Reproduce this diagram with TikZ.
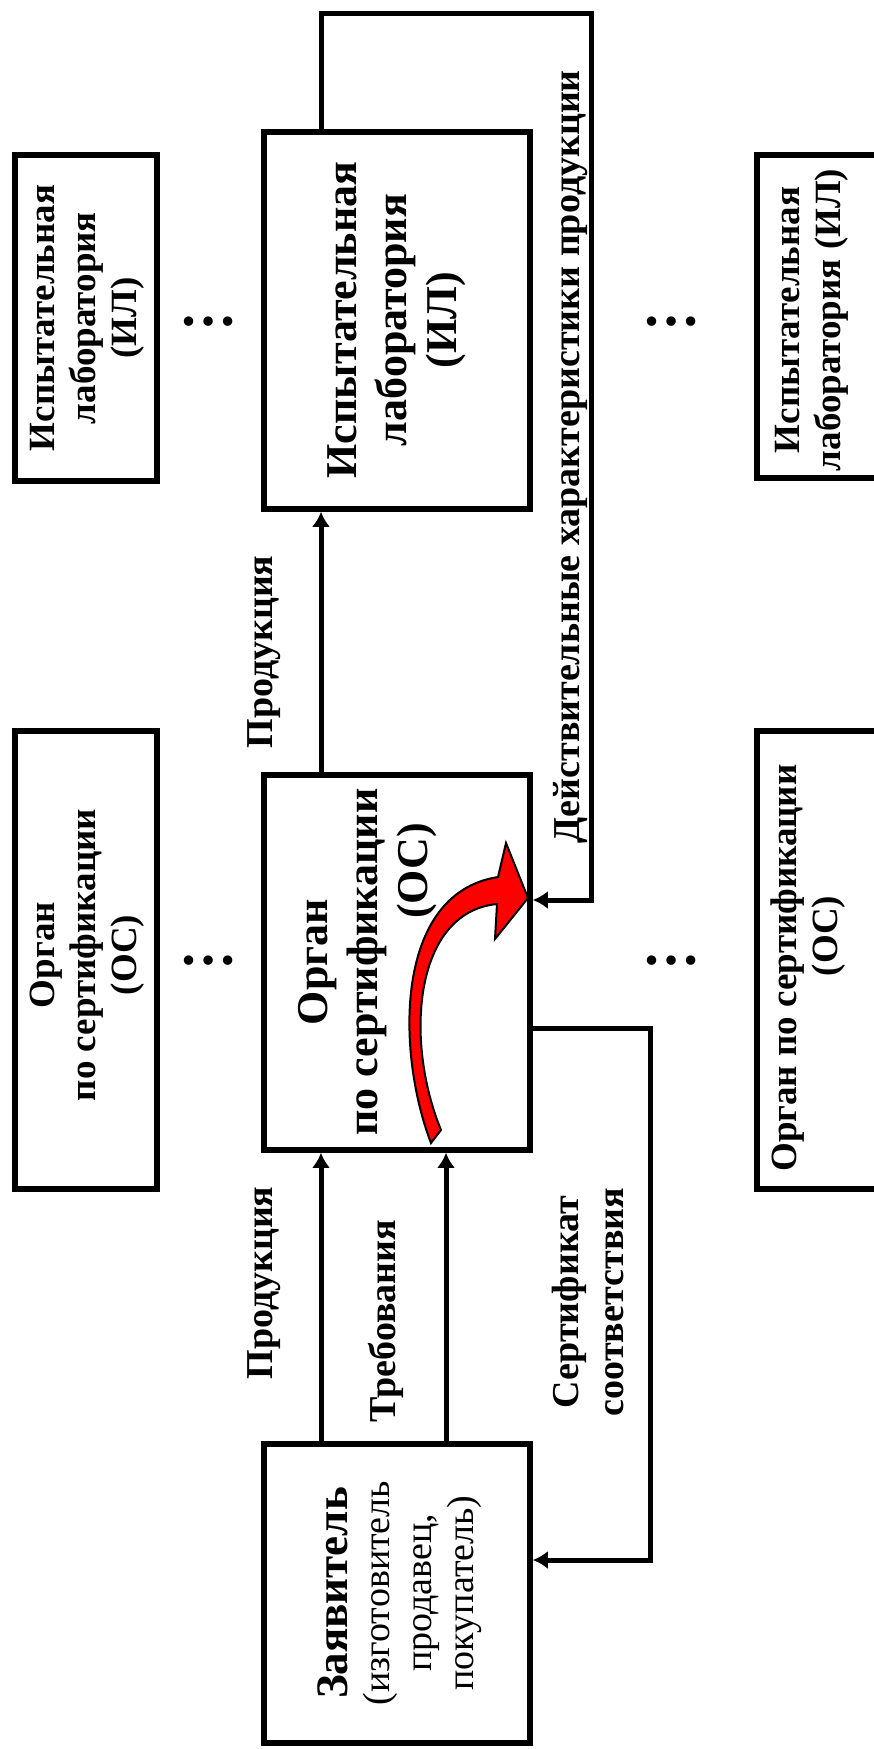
\documentclass[tikz,border=0pt]{standalone}
\usepackage{fontspec}
\setmainfont{Liberation Serif}
\usetikzlibrary{arrows.meta}

\newcommand{\midfont}{\fontsize{44}{50}\selectfont\bfseries}
\newcommand{\sidefont}{\fontsize{37}{41}\selectfont\bfseries}
\newcommand{\flowfont}{\fontsize{38}{45}\selectfont\bfseries}

\tikzset{
  block/.style={draw, rectangle, line width=5.5pt, inner sep=0pt},
  vtext/.style={rotate=90, align=center, inner sep=0pt},
  conn/.style={line width=5pt, -{Latex[length=15pt,width=18pt]}},
  dotrow/.style={inner sep=0pt, font=\fontsize{58}{58}\selectfont\bfseries}
}

\begin{document}
\begin{tikzpicture}[x=1pt, y=-1pt]
  \useasboundingbox (0,0) rectangle (874,1749);
  \fill[white] (0,0) rectangle (874,1749);
  \clip (0,0) rectangle (874,1749);

  % middle column
  \node [block, minimum width=266, minimum height=377] (il) at (397,320.5) {};
  \node [block, minimum width=266, minimum height=375] (os) at (397,962.5) {};
  \node [block, minimum width=266, minimum height=299] (app) at (397,1593.5) {};

  \node [vtext, font=\midfont] (ilText) at (397,320) {Испытательная\\лаборатория\\(ИЛ)};
  \node [vtext, font=\midfont] (osText) at (368,962) {Орган\\по сертификации\\\hspace*{182pt}(ОС)};
  \node [vtext, font=\fontsize{38}{42}\selectfont] (appText) at (400,1593)
    {{\fontsize{45}{48}\selectfont\bfseries Заявитель}\\(изготовитель\\продавец,\\покупатель)};

  % side columns
  \node [block, minimum width=142, minimum height=326] (ilL) at (86,318) {};
  \node [block, minimum width=142, minimum height=458] (osL) at (86,960) {};
  \node [block, minimum width=146, minimum height=323] (ilR) at (830,316.5) {};
  \node [block, minimum width=146, minimum height=458] (osR) at (830,960) {};

  \node [vtext, font=\sidefont] (ilLText) at (87,318) {Испытательная\\лаборатория\\(ИЛ)};
  \node [vtext, font=\sidefont] (osLText) at (87,955) {Орган\\по сертификации\\(ОС)};
  \node [vtext, font=\sidefont] (ilRText) at (812,320) {Испытательная\\лаборатория (ИЛ)};
  \node [vtext, font=\sidefont] (osRText) at (808,968) {Орган по сертификации\\\hspace*{64pt}(ОС)};

  \node [dotrow] (dotsL1) at (208,322) {…};
  \node [dotrow] (dotsL2) at (208,961) {…};
  \node [dotrow] (dotsR1) at (671,322) {…};
  \node [dotrow] (dotsR2) at (671,961) {…};

  % turning points of the connectors
  \coordinate (colP) at (321,0);
  \coordinate (colT) at (446,0);
  \coordinate (loopTop) at (591,13);
  \coordinate (rowD) at (0,900);
  \coordinate (certOut) at (650,1028);
  \coordinate (rowC) at (0,1560);

  \draw [conn] (os.north -| colP) -- (il.south -| colP);
  \draw [conn] (il.north -| colP) |- (loopTop) |- (os.east |- rowD);
  \draw [conn] (app.north -| colP) -- (os.south -| colP);
  \draw [conn] (app.north -| colT) -- (os.south -| colT);
  \draw [conn] (os.east |- certOut) -- (certOut) |- (app.east |- rowC);

  \node [vtext, font=\flowfont] (prodUp) at (264,652) {Продукция};
  \node [vtext, font=\flowfont] (prodDown) at (264,1283) {Продукция};
  \node [vtext, font=\flowfont] (req) at (386,1321) {Требования};
  \node [vtext, font=\flowfont] (cert) at (588,1302) {Сертификат\\соответствия};
  \node [vtext, font=\flowfont] (real) at (571,457) {Действительные характеристики продукции};

  % red turning arrow inside the certification body
  \filldraw [fill=red, draw=black, line width=2pt]
    (431,1143) .. controls (396,1052) and (394,893) .. (498,877)
    -- (506,843) -- (528,898) -- (495,939) -- (497,904)
    .. controls (414,912) and (404,1040) .. (441,1130) -- cycle;
\end{tikzpicture}
\end{document}
